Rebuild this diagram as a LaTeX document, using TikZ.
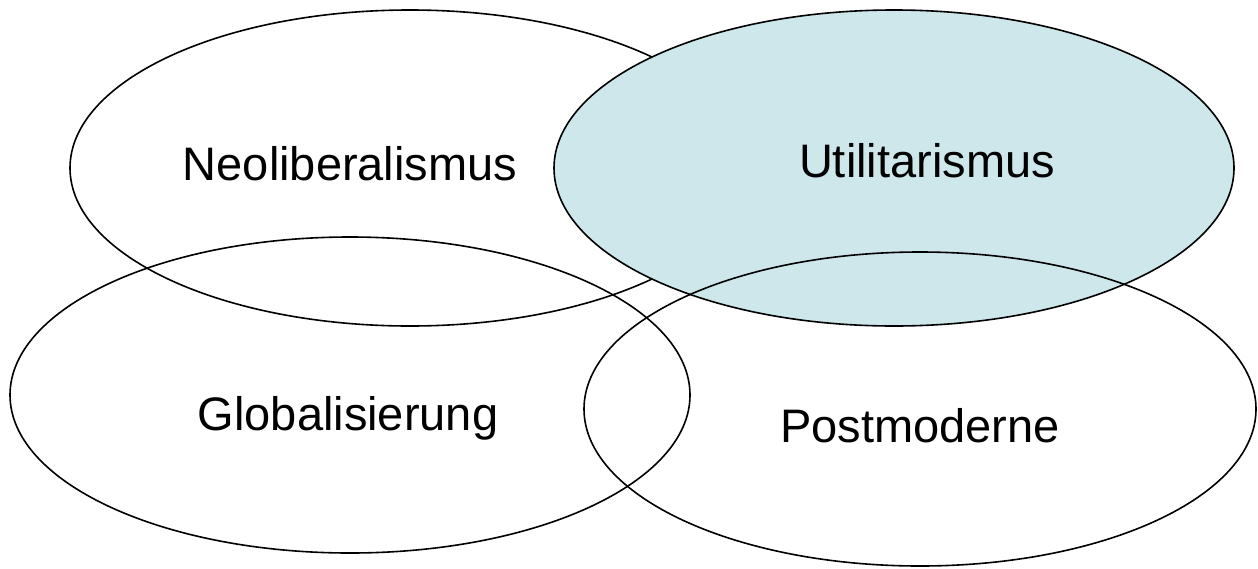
\documentclass[tikz,border=0pt]{standalone}
\usepackage{fontspec}
\setmainfont{Liberation Sans}
\definecolor{utilfill}{HTML}{CDE7EB}
\begin{document}
\begin{tikzpicture}[x=1pt,y=-1pt,
  ring/.style={draw=black,line width=1.6pt},
  term/.style={anchor=base,inner sep=0pt,font=\fontsize{47}{56}\selectfont}]
\useasboundingbox (0,0) rectangle (1258,568);
% four overlapping fields
\draw[ring] (410,168) ellipse [x radius=340,y radius=158];
\draw[ring] (350,395) ellipse [x radius=340,y radius=158];
\draw[ring,fill=utilfill] (894,168) ellipse [x radius=340,y radius=158];
\draw[ring] (920,409) ellipse [x radius=336,y radius=157];
% labels
\node[term] (neo)  at (350,180) {Neoliberalismus};
\node[term] (util) at (927,177) {Utilitarismus};
\node[term] (glob) at (348,430) {Globalisierung};
\node[term] (post) at (920,442) {Postmoderne};
\end{tikzpicture}
\end{document}
